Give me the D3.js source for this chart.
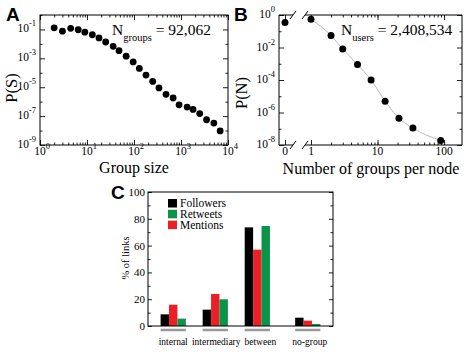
<!DOCTYPE html>
<html>
<head>
<meta charset="utf-8">
<script src="https://cdnjs.cloudflare.com/ajax/libs/d3/7.8.5/d3.min.js"></script>
<style>
body { margin: 0; background: #fff; }
text { font-family: "Liberation Serif", serif; fill: #000; }
.panel { font-family: "Liberation Sans", sans-serif; font-weight: bold; font-size: 19px; }
.tick line { stroke: #222; }
</style>
</head>
<body>
<script>
// panel A: distribution of group sizes
var groupSize = [2, 3, 4.5, 6.5, 9, 13, 18, 25, 36, 48, 68, 96, 130, 180, 250, 340, 480, 680, 910, 1350, 1800, 2500, 3500, 5000, 6800]
var groupProb = [1.3e-1, 7.6e-2, 1.2e-1, 9.5e-2, 6.5e-2, 4.3e-2, 2.6e-2, 1.35e-2, 6.8e-3, 3.4e-3, 1.4e-3, 5.6e-4, 2.0e-4, 6.9e-5, 2.5e-5, 8.9e-6, 3.2e-6, 1.8e-6, 6.0e-7, 4.2e-7, 2.9e-7, 1.5e-7, 5.6e-8, 3.3e-8, 9.5e-9]
var aTicksX = [0, 1, 2, 3, 4]
var aTicksY = [-1, -3, -5, -7, -9]

// panel B: number of groups per node
var groupsPerNode = [0, 1, 2, 3, 5, 8, 13, 21, 34, 89]
var nodeProb = [0.34, 0.55, 0.055, 0.008, 9e-4, 1e-4, 5e-6, 4.5e-7, 1.1e-7, 1.9e-8]
var bTicksX = [1, 10, 100]
var bTicksY = [0, -2, -4, -6, -8]

// panel C: share of links
var linkTypes = ["internal", "intermediary", "between", "no-group"]
var followers = [8.7, 12.2, 73.6, 6.2]
var mentions = [15.9, 23.9, 57, 4]
var retweets = [5.5, 19.9, 74.6, 1.5]
var legendNames = ["Followers", "Retweets", "Mentions"]
var cTicksY = [0, 20, 40, 60, 80, 100]

var red = "#ec1f26", green = "#0a9447"

var svg = d3.select("body")
    .append("svg")
    .attr("width", 469)
    .attr("height", 352)

// "10^n" labels with superscript
function pow10(sel) {
  sel.text("10")
  sel.append("tspan")
      .attr("dy", -6)
      .attr("font-size", 8.5)
      .text(function(d) { return d })
}

// inward ticks on all four sides
function inTicks(g, x, y, xMajor, xMinor, yMajor, yMinor, x0, x1, y0, y1) {
  var ax = [[d3.axisBottom, y0], [d3.axisTop, y1]]
  ax.forEach(function(a) {
    g.append("g").attr("transform", "translate(0," + a[1] + ")")
        .call(a[0](x).tickValues(xMinor).tickSize(-2.5).tickFormat(""))
        .call(function(s) { s.select(".domain").remove() })
    g.append("g").attr("transform", "translate(0," + a[1] + ")")
        .call(a[0](x).tickValues(xMajor).tickSize(-5).tickFormat(""))
        .call(function(s) { s.select(".domain").remove() })
  })
  var ay = [[d3.axisLeft, x0], [d3.axisRight, x1]]
  ay.forEach(function(a) {
    g.append("g").attr("transform", "translate(" + a[1] + ",0)")
        .call(a[0](y).tickValues(yMinor).tickSize(-2.5).tickFormat(""))
        .call(function(s) { s.select(".domain").remove() })
    g.append("g").attr("transform", "translate(" + a[1] + ",0)")
        .call(a[0](y).tickValues(yMajor).tickSize(-5).tickFormat(""))
        .call(function(s) { s.select(".domain").remove() })
  })
}

// ---------- panel A ----------
var xA = d3.scaleLog().domain([1, 1e4]).range([40, 228])
var yA = d3.scaleLog().domain([1e-9, 1]).range([145, 15])
var gA = svg.append("g")

inTicks(gA, xA, yA,
  aTicksX.map(function(e) { return Math.pow(10, e) }),
  xA.ticks().filter(function(v) { return v > 1 && v < 1e4 }),
  aTicksY.map(function(e) { return Math.pow(10, e) }),
  [1e-8, 1e-6, 1e-4, 1e-2, 1],
  40, 228, 145, 15)

gA.append("rect")
    .attr("x", 40).attr("y", 15)
    .attr("width", 188).attr("height", 130)
    .attr("fill", "none").attr("stroke", "#000")

gA.selectAll(".xl").data(aTicksX).enter().append("text")
    .attr("x", function(d) { return xA(Math.pow(10, d)) + 2 })
    .attr("y", 155)
    .attr("text-anchor", "middle")
    .attr("font-size", 11.5)
    .call(pow10)

gA.selectAll(".yl").data(aTicksY).enter().append("text")
    .attr("x", 36)
    .attr("y", function(d) { return yA(Math.pow(10, d)) + 3 })
    .attr("text-anchor", "end")
    .attr("font-size", 11.5)
    .call(pow10)

gA.selectAll("circle").data(groupSize).enter().append("circle")
    .attr("cx", function(d) { return xA(d) })
    .attr("cy", function(d, i) { return yA(groupProb[i]) })
    .attr("r", 3.4)

gA.append("text")
    .attr("x", 134).attr("y", 173)
    .attr("text-anchor", "middle")
    .attr("font-size", 16)
    .text("Group size")

gA.append("text")
    .attr("transform", "translate(17,88) rotate(-90)")
    .attr("text-anchor", "middle")
    .attr("font-size", 16.5)
    .text("P(S)")

var nA = gA.append("text").attr("x", 112).attr("y", 35).attr("font-size", 15.5)
nA.append("tspan").text("N")
nA.append("tspan").attr("dy", 6).attr("font-size", 10.5).text("groups")
nA.append("tspan").attr("dy", -6).text(" = 92,062")

gA.append("text").attr("class", "panel").attr("x", 6).attr("y", 21).text("A")

// ---------- panel B ----------
var xB = d3.scaleLog().domain([1, 186]).range([311, 462])
var xB0 = d3.scaleLinear().domain([-0.6, 0.6]).range([279, 291])
var yB = d3.scaleLog().domain([1e-8, 1]).range([145, 15])
var xBpos = function(n) { return n === 0 ? xB0(0) : xB(n) }
var gB = svg.append("g")

inTicks(gB, xB, yB,
  bTicksX,
  xB.ticks().filter(function(v) { return v > 1 && v < 186 }),
  bTicksY.map(function(e) { return Math.pow(10, e) }),
  [1e-7, 1e-5, 1e-3, 1e-1],
  279, 462, 145, 15)

// tick at zero on the broken part
;[[d3.axisBottom, 145], [d3.axisTop, 15]].forEach(function(a) {
  gB.append("g").attr("transform", "translate(0," + a[1] + ")")
      .call(a[0](xB0).tickValues([0]).tickSize(-5).tickFormat(""))
      .call(function(s) { s.select(".domain").remove() })
})

// frame with axis break
var frame = gB.append("g").attr("stroke", "#000").attr("fill", "none")
frame.append("path").attr("d", "M293,15H279V145H293")
frame.append("path").attr("d", "M305,15H462V145H305")
;[15, 145].forEach(function(yy) {
  ;[293, 305].forEach(function(xx) {
    frame.append("line")
        .attr("x1", xx - 3).attr("y1", yy + 4)
        .attr("x2", xx + 3).attr("y2", yy - 4)
  })
})

gB.selectAll(".xl").data(bTicksX).enter().append("text")
    .attr("x", function(d) { return xB(d) })
    .attr("y", 155)
    .attr("text-anchor", "middle")
    .attr("font-size", 11.5)
    .text(function(d) { return d })

gB.append("text")
    .attr("x", xB0(0)).attr("y", 155)
    .attr("text-anchor", "middle")
    .attr("font-size", 11.5)
    .text("0")

gB.selectAll(".yl").data(bTicksY).enter().append("text")
    .attr("x", 275)
    .attr("y", function(d) { return yB(Math.pow(10, d)) + 3 })
    .attr("text-anchor", "end")
    .attr("font-size", 11.5)
    .call(pow10)

var lineB = d3.line()
    .x(function(d) { return xB(d[0]) })
    .y(function(d) { return yB(d[1]) })
    .curve(d3.curveMonotoneX)

gB.append("path")
    .datum(groupsPerNode.map(function(n, i) { return [n, nodeProb[i]] }).filter(function(d) { return d[0] > 0 }))
    .attr("d", lineB)
    .attr("fill", "none")
    .attr("stroke", "#bbb")

gB.selectAll("circle").data(groupsPerNode).enter().append("circle")
    .attr("cx", xBpos)
    .attr("cy", function(d, i) { return yB(nodeProb[i]) })
    .attr("r", 3.5)

gB.append("text")
    .attr("x", 371).attr("y", 174)
    .attr("text-anchor", "middle")
    .attr("font-size", 16)
    .text("Number of groups per node")

gB.append("text")
    .attr("transform", "translate(247,93) rotate(-90)")
    .attr("text-anchor", "middle")
    .attr("font-size", 16.5)
    .text("P(N)")

var nB = gB.append("text").attr("x", 341).attr("y", 35).attr("font-size", 15.5)
nB.append("tspan").text("N")
nB.append("tspan").attr("dy", 6).attr("font-size", 10.5).text("users")
nB.append("tspan").attr("dy", -6).text(" = 2,408,534")

gB.append("text").attr("class", "panel").attr("x", 234).attr("y", 21).text("B")

// ---------- panel C ----------
// bar slots: 3 bars per group plus 2 empty slots, one extra gap before no-group
var slot = function(i) { return i * 5 + (i === 3 ? 1 : 0) }
var xC = d3.scaleLinear().domain([-1.5, 20.5]).range([148, 333])
var yC = d3.scaleLinear().domain([0, 100]).range([326, 192])
var gC = svg.append("g")

gC.append("g").attr("transform", "translate(148,0)")
    .call(d3.axisLeft(yC).tickValues(d3.range(10, 100, 20)).tickSize(-2.5).tickFormat(""))
    .call(function(s) { s.select(".domain").remove() })
gC.append("g").attr("transform", "translate(148,0)")
    .call(d3.axisLeft(yC).tickValues(cTicksY).tickSize(-4).tickPadding(3))
    .call(function(s) { s.select(".domain").remove() })
    .call(function(s) { s.selectAll("text").attr("font-size", 11).attr("font-family", "Liberation Serif") })
gC.append("g").attr("transform", "translate(333,0)")
    .call(d3.axisRight(yC).tickValues(d3.range(10, 100, 20)).tickSize(-2.5).tickFormat(""))
    .call(function(s) { s.select(".domain").remove() })
gC.append("g").attr("transform", "translate(333,0)")
    .call(d3.axisRight(yC).tickValues(cTicksY).tickSize(-4).tickFormat(""))
    .call(function(s) { s.select(".domain").remove() })

var bars = [[followers, "#000"], [mentions, red], [retweets, green]]
bars.forEach(function(b, k) {
  gC.selectAll(".bar" + k).data(b[0]).enter().append("rect")
      .attr("x", function(d, i) { return xC(slot(i) + k) })
      .attr("y", function(d) { return yC(d) })
      .attr("width", xC(1) - xC(0))
      .attr("height", function(d) { return yC(0) - yC(d) })
      .attr("fill", b[1])
})

gC.append("rect")
    .attr("x", 148).attr("y", 192)
    .attr("width", 185).attr("height", 134)
    .attr("fill", "none").attr("stroke", "#000")

// gray brackets and category names
var labelShift = [0, 1, 3, 2]
gC.selectAll(".under").data(linkTypes).enter().append("line")
    .attr("x1", function(d, i) { return xC(slot(i)) })
    .attr("x2", function(d, i) { return xC(slot(i) + 3) })
    .attr("y1", 330).attr("y2", 330)
    .attr("stroke", "#999").attr("stroke-width", 2.5)

gC.selectAll(".cat").data(linkTypes).enter().append("text")
    .attr("x", function(d, i) { return xC(slot(i) + 1.5) + labelShift[i] })
    .attr("y", 345)
    .attr("text-anchor", "middle")
    .attr("font-size", 9.5)
    .text(function(d) { return d })

gC.append("text")
    .attr("transform", "translate(129,258) rotate(-90)")
    .attr("text-anchor", "middle")
    .attr("font-size", 10.5)
    .text("% of links")

var legendColors = ["#000", green, red]
var leg = gC.selectAll(".leg").data(legendNames).enter().append("g")
    .attr("transform", function(d, i) { return "translate(168," + (199 + i * 10.8) + ")" })
leg.append("rect").attr("width", 9).attr("height", 8.5)
    .attr("fill", function(d, i) { return legendColors[i] })
leg.append("text").attr("x", 12).attr("y", 8).attr("font-size", 11.5)
    .text(function(d) { return d })

gC.append("text").attr("class", "panel").attr("x", 111).attr("y", 199).text("C")
</script>
</body>
</html>
